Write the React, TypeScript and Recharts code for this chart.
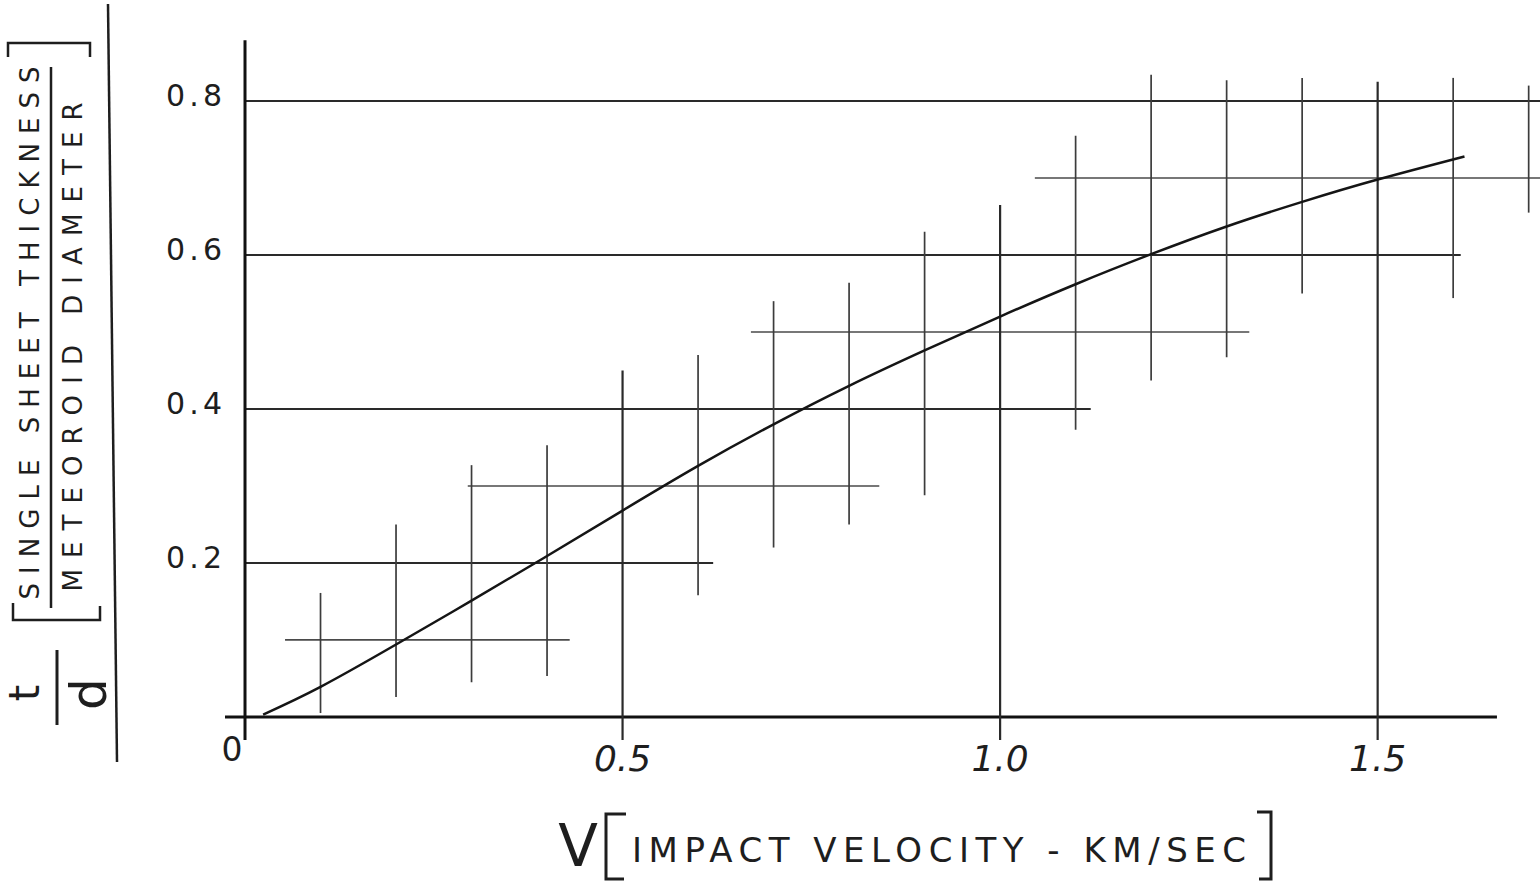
import { ComposedChart, Line, ReferenceLine, XAxis, YAxis } from "recharts";

// t/d curve
const velocity = [0.024, 0.1, 0.2, 0.3, 0.4, 0.5, 0.6, 0.7, 0.8, 0.9, 1.0, 1.1, 1.2, 1.3, 1.4, 1.5, 1.615];
const thicknessRatio = [0.003, 0.039, 0.094, 0.151, 0.209, 0.268, 0.326, 0.38, 0.43, 0.476, 0.52, 0.562, 0.601, 0.637, 0.669, 0.698, 0.728];

const xTicks = [0, 0.5, 1.0, 1.5];
const yTicks = [0.2, 0.4, 0.6, 0.8];

// hand-drawn horizontal rulings: level, start, end (in data units)
const rowLevels = [0, 0.1, 0.2, 0.3, 0.4, 0.5, 0.6, 0.7, 0.8];
const rowFrom = [-0.0265, 0.053, 0, 0.295, 0, 0.67, 0, 1.046, 0];
const rowTo = [1.658, 0.43, 0.62, 0.84, 1.12, 1.33, 1.61, 1.715, 1.715];

// hand-drawn vertical rulings: position, bottom, top
const colLevels = [0, 0.1, 0.2, 0.3, 0.4, 0.5, 0.6, 0.7, 0.8, 0.9, 1.0, 1.1, 1.2, 1.3, 1.4, 1.5, 1.6, 1.7];
const colFrom = [-0.03, 0.005, 0.026, 0.045, 0.053, -0.03, 0.158, 0.22, 0.25, 0.288, -0.03, 0.373, 0.437, 0.467, 0.55, -0.03, 0.544, 0.655];
const colTo = [0.879, 0.161, 0.25, 0.327, 0.353, 0.45, 0.47, 0.54, 0.564, 0.63, 0.665, 0.755, 0.834, 0.827, 0.83, 0.825, 0.83, 0.82];

const curveData = velocity.map((v, i) => ({ v, td: thicknessRatio[i] }));

const INK = "#1e1e1e";
const FONT = "'DejaVu Sans', sans-serif";

const XTick = (props: any) => {
  const { x, y, payload } = props;
  if (payload.value === 0) {
    return (
      <text x={x - 13} y={y + 9} textAnchor="middle" dominantBaseline="central" fontFamily={FONT} fontSize={33} fill={INK}>
        0
      </text>
    );
  }
  return (
    <text
      x={x}
      y={y + 18}
      textAnchor="middle"
      dominantBaseline="central"
      fontFamily={FONT}
      fontSize={36}
      fontStyle="italic"
      fill={INK}
    >
      {payload.value.toFixed(1)}
    </text>
  );
};

const YTick = (props: any) => {
  const { x, y, payload } = props;
  return (
    <text
      x={x - 3}
      y={y - 5}
      textAnchor="end"
      dominantBaseline="central"
      fontFamily={FONT}
      fontSize={30}
      fill={INK}
      textLength={56}
      lengthAdjust="spacing"
    >
      {payload.value.toFixed(1)}
    </text>
  );
};

const renderXLabel = () => (
  <g fill={INK} fontFamily={FONT}>
    <text x={578} y={866} textAnchor="middle" fontSize={58}>
      V
    </text>
    <path d="M626,814 L606,814 L606,879 L624,879" fill="none" stroke={INK} strokeWidth={3} />
    <text x={632} y={862} fontSize={34} textLength={614} lengthAdjust="spacing">
      IMPACT VELOCITY - KM/SEC
    </text>
    <path d="M1257,812 L1271,812 L1271,879 L1259,879" fill="none" stroke={INK} strokeWidth={3} />
  </g>
);

const renderYLabel = () => (
  <g fill={INK} fontFamily={FONT}>
    <line x1={108} y1={4} x2={117} y2={762} stroke={INK} strokeWidth={2.5} />
    <path d="M8,57 L8,43 L90,43 L90,57" fill="none" stroke={INK} strokeWidth={2.5} />
    <text
      transform="translate(39,333) rotate(-90)"
      textAnchor="middle"
      fontSize={26}
      textLength={533}
      lengthAdjust="spacing"
    >
      SINGLE SHEET THICKNESS
    </text>
    <line x1={51} y1={67} x2={51} y2={608} stroke={INK} strokeWidth={2.5} />
    <text
      transform="translate(82,347) rotate(-90)"
      textAnchor="middle"
      fontSize={26}
      textLength={489}
      lengthAdjust="spacing"
    >
      METEOROID DIAMETER
    </text>
    <path d="M13,603 L13,620 L100,620 L100,606" fill="none" stroke={INK} strokeWidth={2.5} />
    <text transform="translate(39,693) rotate(-90)" textAnchor="middle" fontSize={42}>
      t
    </text>
    <line x1={57} y1={650} x2={57} y2={725} stroke={INK} strokeWidth={3} />
    <text transform="translate(106,694) rotate(-90)" textAnchor="middle" fontSize={50}>
      d
    </text>
  </g>
);

export default function App() {
  return (
    <div style={{ position: "absolute", left: 0, top: 0, background: "#fff" }}>
      <ComposedChart
        width={1540}
        height={885}
        data={curveData}
        margin={{ top: 24, right: 0, left: 125, bottom: 85 }}
      >
        <XAxis
          dataKey="v"
          type="number"
          domain={[-0.0265, 1.715]}
          allowDataOverflow
          ticks={xTicks}
          tick={<XTick />}
          tickLine={false}
          axisLine={false}
          tickSize={0}
          tickMargin={0}
          height={60}
          label={renderXLabel}
        />
        <YAxis
          type="number"
          domain={[-0.03, 0.9]}
          allowDataOverflow
          ticks={yTicks}
          tick={<YTick />}
          tickLine={false}
          axisLine={false}
          tickSize={0}
          tickMargin={0}
          width={100}
          label={renderYLabel}
        />
        {rowLevels.map((lvl, i) => {
          const axis = lvl === 0;
          const major = Math.round(lvl * 10) % 2 === 0;
          return (
            <ReferenceLine
              key={`r${i}`}
              segment={[
                { x: rowFrom[i], y: lvl },
                { x: rowTo[i], y: lvl },
              ]}
              stroke={axis ? "#111" : major ? "#2a2a2a" : "#4a4a4a"}
              strokeWidth={axis ? 3 : major ? 2 : 1.6}
              ifOverflow="visible"
            />
          );
        })}
        {colLevels.map((lvl, i) => {
          const axis = lvl === 0;
          const major = Math.round(lvl * 10) % 5 === 0;
          return (
            <ReferenceLine
              key={`c${i}`}
              segment={[
                { x: lvl, y: colFrom[i] },
                { x: lvl, y: colTo[i] },
              ]}
              stroke={axis ? "#111" : major ? "#2a2a2a" : "#3c3c3c"}
              strokeWidth={axis ? 3 : major ? 2.2 : 1.7}
              ifOverflow="visible"
            />
          );
        })}
        <Line
          dataKey="td"
          type="natural"
          stroke="#151515"
          strokeWidth={2.5}
          dot={false}
          activeDot={false}
          isAnimationActive={false}
        />
      </ComposedChart>
    </div>
  );
}
